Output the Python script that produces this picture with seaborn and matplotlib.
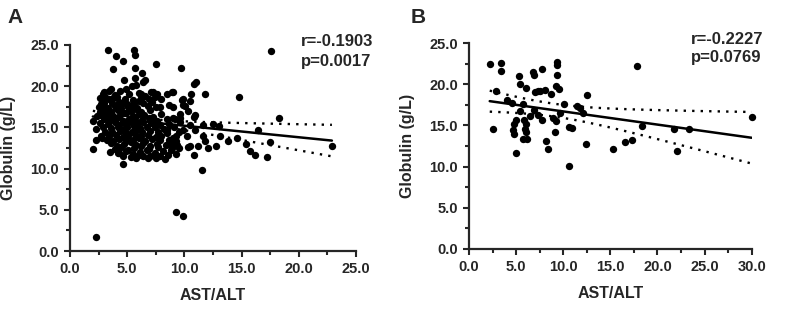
import numpy as np
import pandas as pd
import seaborn as sns
import matplotlib.pyplot as plt
from matplotlib.ticker import MultipleLocator, FormatStrFormatter

# panel A: AST/ALT vs globulin
ast_alt_a = [
    3.35, 5.6, 5.7, 4.0, 4.65, 7.5, 3.8, 5.7, 6.3, 6.6, 4.75, 5.7, 5.4, 3.55, 4.9, 7.1, 6.2, 2.9, 3.1,
    9.7, 10.8, 11.0, 11.8, 14.8, 9.0, 9.85, 10.55, 10.5, 10.05, 9.0, 10.3, 9.6, 10.9,
    9.0, 9.6, 10.8, 11.65, 12.5, 13.0, 9.9, 9.5, 10.5, 13.1, 13.8, 14.6, 11.65, 11.8, 9.0, 9.3,
    10.5, 11.2, 12.1, 12.8, 10.8, 15.4, 15.7, 16.2, 16.4, 11.5,
    17.6, 18.3, 17.5, 17.2, 22.9,
    2.0, 4.66, 9.27, 9.9, 2.25,
    6.4, 7.0, 5.8, 4.3, 8.3, 7.9, 10.3,
    2.0, 2.3, 2.3, 2.8,
    8.45, 8.9, 8.0, 9.8, 9.9, 8.7, 7.9, 9.2, 8.45, 8.7, 9.3, 10.9, 10.2,
    5.8, 6.4, 7.3,
    3.0, 3.9, 4.4, 5.2, 6.0, 6.6, 7.6, 3.4,
    2.6, 3.4, 4.1, 4.8, 5.5, 6.2, 6.9, 7.4, 2.9, 3.8,
    3.0, 3.7, 4.3, 5.0, 5.6, 6.0, 6.4, 7.2, 2.7, 4.6,
    2.5, 3.3, 3.9, 4.5, 5.1, 5.4, 5.9, 6.8, 7.5, 3.1, 4.0,
    2.9, 3.6, 4.2, 4.7, 5.3, 5.8, 6.2, 7.0, 2.6, 3.4,
    2.7, 3.2, 3.8, 4.4, 4.9, 5.5, 6.0, 6.5, 7.3, 8.0, 2.4,
    3.0, 3.5, 4.1, 4.6, 5.2, 5.7, 6.3, 6.9, 7.6, 8.5,
    2.6, 3.3, 3.9, 4.3, 4.8, 5.3, 5.9, 6.4, 7.1, 7.9, 8.7, 9.6,
    2.9, 3.6, 4.2, 4.7, 5.0, 5.6, 6.1, 6.7, 7.4, 8.2, 9.1,
    3.1, 3.7, 4.4, 4.9, 5.4, 5.8, 6.3, 7.0, 7.7, 8.5,
    2.7, 3.4, 4.0, 4.6, 5.1, 5.7, 6.2, 6.8, 7.5, 8.0,
    3.2, 3.8, 4.3, 4.9, 5.5, 6.0, 6.6, 7.2, 7.9,
    8.9, 9.4, 3.6, 4.1, 4.7, 5.3, 5.8, 6.4, 7.0, 7.6, 8.4,
    9.5, 3.9, 4.5, 5.1, 5.6, 6.2, 6.9, 7.7, 8.9,
    3.5, 4.2, 4.9, 5.5, 6.1, 6.7, 7.4, 8.1, 8.8, 9.3,
    4.6, 5.3, 6.0, 6.8, 7.5, 8.6,
]
globulin_a = [
    24.4, 24.4, 23.8, 23.6, 23.1, 22.7, 22.1, 22.2, 21.6, 20.7, 20.8, 21.0, 20.0, 19.7, 19.6, 19.3, 19.1, 19.1, 18.7,
    22.2, 20.3, 20.5, 19.1, 18.7, 19.3, 18.4, 19.0, 18.2, 17.6, 17.5, 17.0, 16.6, 16.5,
    16.1, 16.1, 16.3, 15.3, 15.4, 15.2, 14.7, 14.5, 15.3, 13.9, 13.3, 13.7, 13.9, 13.3, 13.7, 13.3,
    12.7, 12.7, 12.5, 12.8, 11.65, 13.0, 12.1, 11.65, 14.7, 9.8,
    24.3, 16.2, 13.2, 11.4, 12.7,
    12.4, 10.6, 4.8, 4.25, 1.75,
    11.5, 11.5, 11.25, 11.85, 11.2, 11.5, 12.6,
    15.8, 14.8, 13.5, 13.7,
    19.1, 19.3, 18.5, 18.3, 17.7, 17.7, 17.5, 16.0, 14.7, 13.5, 13.9, 14.7, 13.9,
    20.1, 20.5, 19.3,
    19.3, 18.9, 19.4, 19.1, 19.2, 18.8, 19.0, 19.4,
    18.6, 18.4, 18.7, 18.5, 18.3, 18.6, 18.4, 18.7, 18.5, 18.6,
    18.0, 17.9, 18.1, 17.8, 18.0, 18.2, 17.9, 18.1, 17.8, 18.0,
    17.5, 17.4, 17.6, 17.3, 17.5, 17.7, 17.4, 17.6, 17.5, 17.3, 17.4,
    17.0, 16.9, 17.1, 16.8, 17.0, 17.2, 16.9, 17.1, 16.9, 17.0,
    16.5, 16.6, 16.4, 16.5, 16.7, 16.4, 16.6, 16.5, 16.3, 16.6, 16.4,
    16.0, 15.9, 16.1, 15.8, 16.0, 16.2, 15.9, 16.1, 15.8, 16.0,
    15.5, 15.4, 15.6, 15.3, 15.5, 15.7, 15.4, 15.6, 15.5, 15.3, 15.4, 15.6,
    15.0, 14.9, 15.1, 14.8, 15.0, 15.2, 14.9, 15.1, 15.0, 14.8, 15.1,
    14.5, 14.4, 14.6, 14.3, 14.5, 14.7, 14.4, 14.6, 14.5, 14.3,
    14.0, 13.9, 14.1, 13.8, 14.0, 14.2, 13.9, 14.1, 13.8, 14.0,
    13.5, 13.4, 13.6, 13.3, 13.5, 13.7, 13.4, 13.6, 13.5,
    13.0, 12.9, 13.1, 12.8, 13.0, 13.2, 12.9, 13.1, 12.8, 13.0, 12.9,
    12.5, 12.4, 12.6, 12.3, 12.5, 12.7, 12.4, 12.6, 12.5,
    12.0, 11.9, 12.1, 11.8, 12.0, 12.2, 11.9, 12.1, 12.2, 11.8,
    11.5, 11.4, 11.6, 11.3, 11.3, 11.6,
]

# panel B
ast_alt_b = [
    2.2, 3.4, 3.45, 2.85, 2.6, 5.3, 5.4, 6.0, 6.8, 6.9, 7.7, 9.3, 9.3, 9.3, 9.2, 9.6, 8.7,
    7.0, 7.3, 7.5, 8.1, 4.0, 4.6, 5.7, 5.4, 6.9, 6.5, 7.3, 7.7, 5.0, 4.8, 4.7, 4.8,
    5.8, 6.0, 5.9, 6.0, 5.7, 6.2, 8.9, 9.2, 9.1, 10.1, 10.6, 10.9, 9.7, 11.5, 11.8, 12.1,
    12.5, 12.4, 8.2, 8.4, 5.0, 10.6, 15.3, 16.6, 17.3, 17.8, 18.4, 21.8, 23.4, 22.1, 30.0,
]
globulin_b = [
    22.4, 22.6, 21.6, 19.2, 14.6, 21.0, 20.0, 19.6, 21.5, 21.1, 21.8, 22.7, 22.3, 21.1, 19.8, 19.4, 18.8,
    19.0, 19.2, 19.2, 19.3, 18.1, 17.7, 17.6, 16.7, 16.9, 16.1, 16.3, 15.6, 15.7, 15.2, 14.4, 13.9,
    15.6, 15.2, 14.6, 14.2, 13.4, 13.3, 15.9, 15.5, 14.2, 17.6, 14.8, 14.7, 16.5, 17.4, 17.1, 16.5,
    18.7, 12.7, 13.1, 12.1, 11.6, 10.1, 12.1, 13.0, 13.2, 22.2, 14.9, 14.6, 14.6, 11.9, 16.0,
]

stats_a = ["r=-0.1903", "p=0.0017"]
stats_b = ["r=-0.2227", "p=0.0769"]


def plot_panel(ax, x, y, xmax, tcrit):
    df = pd.DataFrame({"x": x, "y": y})
    sns.regplot(data=df, x="x", y="y", ax=ax, ci=None,
                scatter_kws=dict(s=28, color="black", linewidths=0, alpha=1, clip_on=False),
                line_kws=dict(color="black", lw=1.8))
    # 95% confidence band as dotted lines
    slope, icpt = np.polyfit(df.x, df.y, 1)
    n = len(df)
    resid = df.y - (icpt + slope * df.x)
    s = np.sqrt((resid ** 2).sum() / (n - 2))
    sxx = ((df.x - df.x.mean()) ** 2).sum()
    xs = np.linspace(df.x.min(), df.x.max(), 100)
    fit = icpt + slope * xs
    se = s * np.sqrt(1 / n + (xs - df.x.mean()) ** 2 / sxx)
    for sign in (1, -1):
        ax.plot(xs, fit + sign * tcrit * se, color="black", lw=1.7, ls=(0, (1, 2.6)))

    ax.set_xlim(0, xmax)
    ax.set_ylim(0, 25)
    ax.xaxis.set_major_locator(MultipleLocator(5))
    ax.xaxis.set_minor_locator(MultipleLocator(2.5))
    ax.yaxis.set_major_locator(MultipleLocator(5))
    ax.yaxis.set_minor_locator(MultipleLocator(2.5))
    ax.xaxis.set_major_formatter(FormatStrFormatter("%.1f"))
    ax.yaxis.set_major_formatter(FormatStrFormatter("%.1f"))
    ax.tick_params(which="major", length=4, width=1.5, labelsize=10.5, pad=4)
    ax.tick_params(which="minor", length=3, width=1.5)
    for lab in ax.get_xticklabels() + ax.get_yticklabels():
        lab.set_fontweight("bold")
    sns.despine(ax=ax)
    for sp in ("left", "bottom"):
        ax.spines[sp].set_linewidth(1.6)
    ax.set_xlabel("AST/ALT", fontsize=11.5, fontweight="bold")
    ax.set_ylabel("Globulin (g/L)", fontsize=11.5, fontweight="bold")
    ax.xaxis.set_label_coords(0.5, -0.18)
    ax.yaxis.set_label_coords(-0.19, 0.5)
    return ax


sns.set_style("ticks")
plt.rcParams['font.family'] = ['Liberation Sans', 'DejaVu Sans']

fig = plt.figure(figsize=(8.1, 3.1), dpi=100)
ax_a = fig.add_axes([0.0864, 0.190, 0.353, 0.665])
ax_b = fig.add_axes([0.579, 0.197, 0.349, 0.664])

plot_panel(ax_a, ast_alt_a, globulin_a, 25, 1.969)
plot_panel(ax_b, ast_alt_b, globulin_b, 30, 1.999)

fig.text(0.018, 0.944, "A", fontsize=15, fontweight="bold", va="center", ha="center")
fig.text(0.516, 0.944, "B", fontsize=15, fontweight="bold", va="center", ha="center")

fig.text(0.372, 0.865, stats_a[0], fontsize=12, fontweight="bold", va="center")
fig.text(0.372, 0.803, stats_a[1], fontsize=12, fontweight="bold", va="center")
fig.text(0.853, 0.874, stats_b[0], fontsize=12, fontweight="bold", va="center")
fig.text(0.853, 0.813, stats_b[1], fontsize=12, fontweight="bold", va="center")

fig.savefig("out.png", dpi=100)
